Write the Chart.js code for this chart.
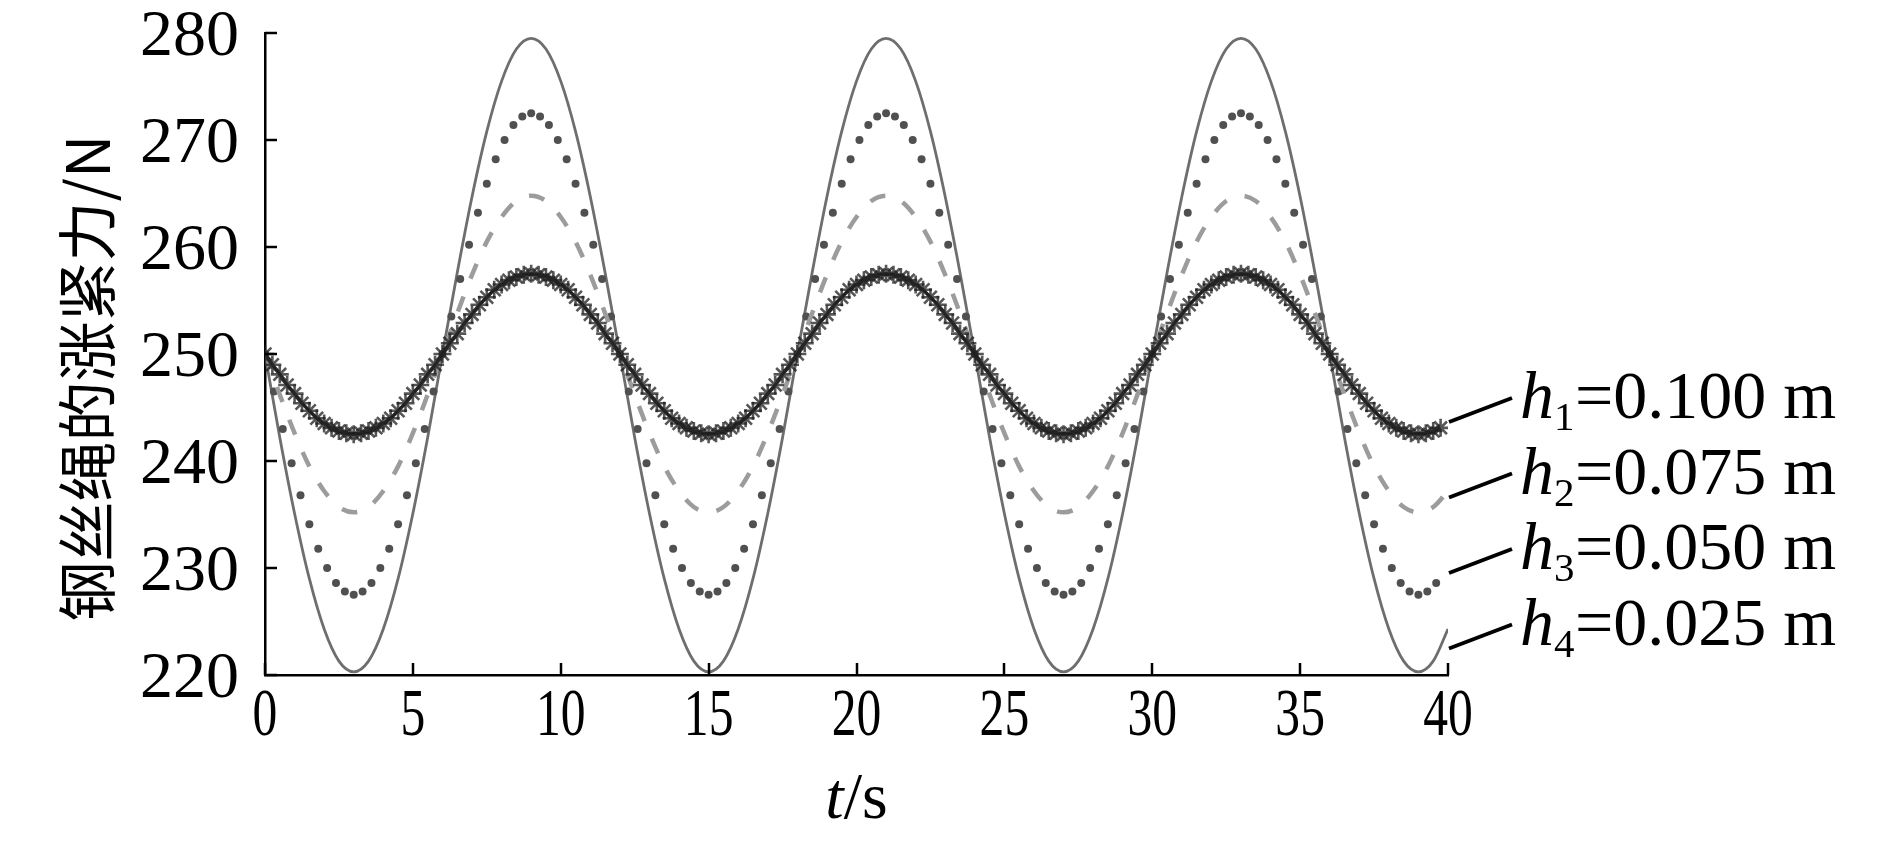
<!DOCTYPE html>
<html>
<head>
<meta charset="utf-8">
<script src="https://cdn.jsdelivr.net/npm/chart.js@4.4.0/dist/chart.umd.min.js"></script>
<style>
  html, body { margin: 0; padding: 0; background: #fff; }
</style>
</head>
<body>
<canvas id="tensionChart" width="1890" height="841"></canvas>
<script>
// sampling step (s) of each series
const STEP_H1 = 0.25;
const STEP_H2 = 0.5;
const STEP_H3 = 0.3;
const STEP_H4 = 0.5;

// axis ranges / tick labels
const X_MIN = 0, X_MAX = 40, X_STEP = 5;
const Y_MIN = 220, Y_MAX = 280, Y_STEP = 10;
const Y_TITLE = '钢丝绳的涨紧力/N';

// legend
const legendSubs = ['1', '2', '3', '4'];
const legendValues = ['0.100', '0.075', '0.050', '0.025'];

// h1 = 0.100 m  (asterisks)
const h1Values = [
  250, 249.0, 248.1, 247.1, 246.3, 245.4, 244.7, 244.0, 243.5, 243.1, 242.8, 242.6,
  242.5, 242.6, 242.8, 243.1, 243.5, 244.0, 244.7, 245.4, 246.3, 247.1, 248.1, 249.0,
  250, 251.0, 251.9, 252.9, 253.7, 254.6, 255.3, 256.0, 256.5, 256.9, 257.2, 257.4,
  257.5, 257.4, 257.2, 256.9, 256.5, 256.0, 255.3, 254.6, 253.7, 252.9, 251.9, 251.0,
  250, 249.0, 248.1, 247.1, 246.3, 245.4, 244.7, 244.0, 243.5, 243.1, 242.8, 242.6,
  242.5, 242.6, 242.8, 243.1, 243.5, 244.0, 244.7, 245.4, 246.3, 247.1, 248.1, 249.0,
  250, 251.0, 251.9, 252.9, 253.7, 254.6, 255.3, 256.0, 256.5, 256.9, 257.2, 257.4,
  257.5, 257.4, 257.2, 256.9, 256.5, 256.0, 255.3, 254.6, 253.7, 252.9, 251.9, 251.0,
  250, 249.0, 248.1, 247.1, 246.3, 245.4, 244.7, 244.0, 243.5, 243.1, 242.8, 242.6,
  242.5, 242.6, 242.8, 243.1, 243.5, 244.0, 244.7, 245.4, 246.3, 247.1, 248.1, 249.0,
  250, 251.0, 251.9, 252.9, 253.7, 254.6, 255.3, 256.0, 256.5, 256.9, 257.2, 257.4,
  257.5, 257.4, 257.2, 256.9, 256.5, 256.0, 255.3, 254.6, 253.7, 252.9, 251.9, 251.0,
  250, 249.0, 248.1, 247.1, 246.3, 245.4, 244.7, 244.0, 243.5, 243.1, 242.8, 242.6,
  242.5, 242.6, 242.8, 243.1
];

// h2 = 0.075 m  (dashed)
const h2Values = [
  250, 246.2, 242.6, 239.5, 237.2, 235.7, 235.2, 235.7, 237.2, 239.5, 242.6, 246.2,
  250, 253.8, 257.4, 260.5, 262.8, 264.3, 264.8, 264.3, 262.8, 260.5, 257.4, 253.8,
  250, 246.2, 242.6, 239.5, 237.2, 235.7, 235.2, 235.7, 237.2, 239.5, 242.6, 246.2,
  250, 253.8, 257.4, 260.5, 262.8, 264.3, 264.8, 264.3, 262.8, 260.5, 257.4, 253.8,
  250, 246.2, 242.6, 239.5, 237.2, 235.7, 235.2, 235.7, 237.2, 239.5, 242.6, 246.2,
  250, 253.8, 257.4, 260.5, 262.8, 264.3, 264.8, 264.3, 262.8, 260.5, 257.4, 253.8,
  250, 246.2, 242.6, 239.5, 237.2, 235.7, 235.2, 235.7, 237.2
];

// h3 = 0.050 m  (dots)
const h3Values = [
  250, 246.5, 243.0, 239.8, 236.8, 234.1, 231.8, 230.0, 228.6, 227.8,
  227.5, 227.8, 228.6, 230.0, 231.8, 234.1, 236.8, 239.8, 243.0, 246.5,
  250, 253.5, 257.0, 260.2, 263.2, 265.9, 268.2, 270.0, 271.4, 272.2,
  272.5, 272.2, 271.4, 270.0, 268.2, 265.9, 263.2, 260.2, 257.0, 253.5,
  250, 246.5, 243.0, 239.8, 236.8, 234.1, 231.8, 230.0, 228.6, 227.8,
  227.5, 227.8, 228.6, 230.0, 231.8, 234.1, 236.8, 239.8, 243.0, 246.5,
  250, 253.5, 257.0, 260.2, 263.2, 265.9, 268.2, 270.0, 271.4, 272.2,
  272.5, 272.2, 271.4, 270.0, 268.2, 265.9, 263.2, 260.2, 257.0, 253.5,
  250, 246.5, 243.0, 239.8, 236.8, 234.1, 231.8, 230.0, 228.6, 227.8,
  227.5, 227.8, 228.6, 230.0, 231.8, 234.1, 236.8, 239.8, 243.0, 246.5,
  250, 253.5, 257.0, 260.2, 263.2, 265.9, 268.2, 270.0, 271.4, 272.2,
  272.5, 272.2, 271.4, 270.0, 268.2, 265.9, 263.2, 260.2, 257.0, 253.5,
  250, 246.5, 243.0, 239.8, 236.8, 234.1, 231.8, 230.0, 228.6, 227.8,
  227.5, 227.8, 228.6
];

// h4 = 0.025 m  (solid)
const h4Values = [
  250, 242.2, 235.1, 229.0, 224.3, 221.3, 220.3, 221.3, 224.3, 229.0, 235.1, 242.2,
  250, 257.6, 264.7, 270.8, 275.5, 278.5, 279.5, 278.5, 275.5, 270.8, 264.7, 257.6,
  250, 242.2, 235.1, 229.0, 224.3, 221.3, 220.3, 221.3, 224.3, 229.0, 235.1, 242.2,
  250, 257.6, 264.7, 270.8, 275.5, 278.5, 279.5, 278.5, 275.5, 270.8, 264.7, 257.6,
  250, 242.2, 235.1, 229.0, 224.3, 221.3, 220.3, 221.3, 224.3, 229.0, 235.1, 242.2,
  250, 257.6, 264.7, 270.8, 275.5, 278.5, 279.5, 278.5, 275.5, 270.8, 264.7, 257.6,
  250, 242.2, 235.1, 229.0, 224.3, 221.3, 220.3, 221.3, 224.3
];

function toPoints(values, step) {
  return values.map((v, i) => ({ x: Math.round(i * step * 100) / 100, y: v }));
}

const SERIF = '"Liberation Serif", "Times New Roman", serif';

// inward ticks, tick labels, axis titles and the h-labels on the right
const decorations = {
  id: 'decorations',
  afterDraw(chart) {
    const ctx = chart.ctx;
    const { left, right, top, bottom } = chart.chartArea;
    const xs = chart.scales.x, ys = chart.scales.y;
    ctx.save();
    ctx.strokeStyle = '#000';
    ctx.fillStyle = '#000';
    ctx.lineWidth = 2.5;

    ys.ticks.forEach(t => {
      const py = Math.round(ys.getPixelForValue(t.value));
      ctx.beginPath(); ctx.moveTo(left, py); ctx.lineTo(left + 12, py); ctx.stroke();
    });
    xs.ticks.forEach(t => {
      const px = Math.round(xs.getPixelForValue(t.value));
      ctx.beginPath(); ctx.moveTo(px, bottom); ctx.lineTo(px, bottom - 12); ctx.stroke();
    });

    // y tick labels
    ctx.font = '66px ' + SERIF;
    ctx.textAlign = 'right';
    ctx.textBaseline = 'alphabetic';
    ys.ticks.forEach(t => {
      const py = ys.getPixelForValue(t.value);
      ctx.fillText(String(t.value), left - 26, py + 22);
    });

    // condensed x tick labels
    ctx.font = '67px ' + SERIF;
    ctx.textAlign = 'center';
    xs.ticks.forEach(t => {
      const px = xs.getPixelForValue(t.value);
      ctx.save();
      ctx.translate(px, bottom + 60);
      ctx.scale(0.74, 1);
      ctx.fillText(String(t.value), 0, 0);
      ctx.restore();
    });

    // y title (rotated)
    ctx.save();
    ctx.translate(left - 178, (top + bottom) / 2 + 24);
    ctx.rotate(-Math.PI / 2);
    ctx.font = '60px "Noto Sans CJK SC", sans-serif';
    ctx.textAlign = 'center';
    ctx.textBaseline = 'middle';
    ctx.fillText(Y_TITLE, 0, 0);
    ctx.restore();

    // x title: t/s
    ctx.textAlign = 'left';
    ctx.font = 'italic 66px ' + SERIF;
    const wT = ctx.measureText('t').width;
    ctx.font = '66px ' + SERIF;
    const wRest = ctx.measureText('/s').width;
    const tx = (left + right) / 2 - (wT + wRest) / 2;
    ctx.font = 'italic 66px ' + SERIF;
    ctx.fillText('t', tx, bottom + 143);
    ctx.font = '66px ' + SERIF;
    ctx.fillText('/s', tx + wT, bottom + 143);

    // right-side labels with leader lines
    ctx.lineWidth = 4;
    legendValues.forEach((val, i) => {
      const rowY = top + 389 + i * 75.5;
      ctx.beginPath();
      ctx.moveTo(right + 1, rowY);
      ctx.lineTo(right + 64, rowY - 24);
      ctx.stroke();
      const base = rowY - 4;
      const x0 = right + 72;
      ctx.font = 'italic 68px ' + SERIF;
      ctx.fillText('h', x0, base);
      ctx.font = '41px ' + SERIF;
      ctx.fillText(legendSubs[i], x0 + 34, base + 12);
      ctx.font = '68px ' + SERIF;
      ctx.fillText('=' + val + ' m', x0 + 55, base);
    });
    ctx.restore();
  }
};

const tensionChart = new Chart(document.getElementById('tensionChart'), {
  type: 'line',
  data: {
    datasets: [
      {
        label: 'h1=0.100 m',
        data: toPoints(h1Values, STEP_H1),
        borderColor: 'rgba(35,35,35,0.85)',
        borderWidth: 3.5,
        pointStyle: 'star',
        pointRadius: 9,
        pointBorderWidth: 2.6,
        pointBorderColor: 'rgba(30,30,30,0.75)',
        pointBackgroundColor: 'rgba(30,30,30,0.75)',
        cubicInterpolationMode: 'monotone'
      },
      {
        label: 'h2=0.075 m',
        data: toPoints(h2Values, STEP_H2),
        borderColor: '#9c9c9c',
        borderWidth: 4.5,
        borderDash: [16, 19],
        pointRadius: 0,
        cubicInterpolationMode: 'monotone'
      },
      {
        label: 'h3=0.050 m',
        data: toPoints(h3Values, STEP_H3),
        showLine: false,
        pointRadius: 4,
        pointBorderWidth: 0,
        pointBackgroundColor: '#505050'
      },
      {
        label: 'h4=0.025 m',
        data: toPoints(h4Values, STEP_H4),
        borderColor: '#6e6e6e',
        borderWidth: 2.8,
        pointRadius: 0,
        cubicInterpolationMode: 'monotone'
      }
    ]
  },
  options: {
    responsive: false,
    animation: false,
    layout: { padding: { top: 33, right: 442, left: 0, bottom: 0 } },
    plugins: {
      legend: { display: false },
      tooltip: { enabled: false }
    },
    scales: {
      x: {
        type: 'linear',
        min: X_MIN,
        max: X_MAX,
        ticks: { stepSize: X_STEP, display: false },
        grid: { display: false, drawTicks: false },
        border: { display: true, color: '#000', width: 2.5 },
        afterFit(scale) { scale.height = 166; }
      },
      y: {
        min: Y_MIN,
        max: Y_MAX,
        ticks: { stepSize: Y_STEP, display: false },
        grid: { display: false, drawTicks: false },
        border: { display: true, color: '#000', width: 2.5 },
        afterFit(scale) { scale.width = 265; }
      }
    }
  },
  plugins: [decorations]
});
</script>
</body>
</html>
